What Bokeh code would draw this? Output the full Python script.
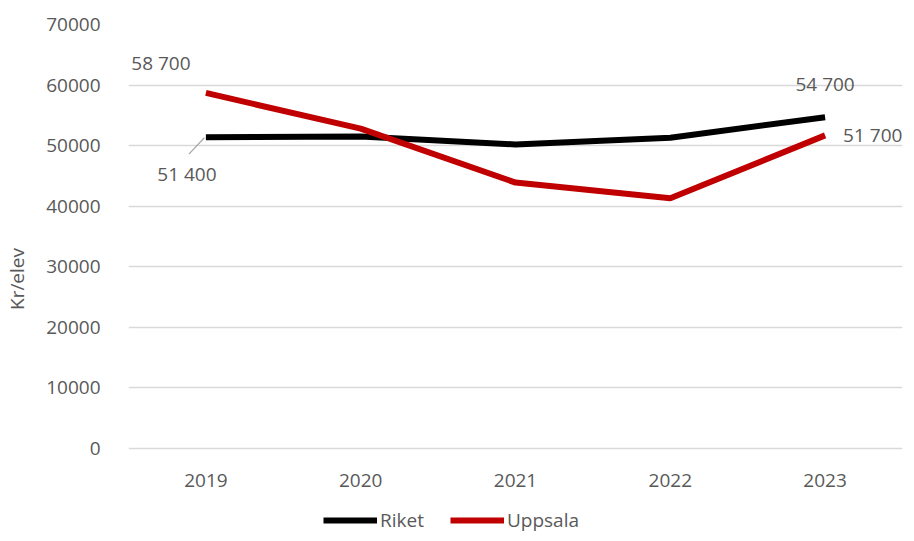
from bokeh.plotting import figure
from bokeh.models import ColumnDataSource, FixedTicker, Legend, LegendItem
from bokeh.core.properties import value
from bokeh.embed import file_html
from bokeh.resources import INLINE

years = [2019, 2020, 2021, 2022, 2023]
year_labels = ["2019", "2020", "2021", "2022", "2023"]
riket = [51400, 51500, 50200, 51300, 54700]
uppsala = [58700, 52800, 43900, 41300, 51700]
y_ticks = [0, 10000, 20000, 30000, 40000, 50000, 60000, 70000]

FONT = "Open Sans"
GRAY = "#595959"
FS = "19px"

def fmt(v):
    return f"{v:,}".replace(",", " ")

# frame runs to the bottom of the figure so that the category labels and legend can sit inside it
p = figure(width=906, height=533, output_backend="svg", toolbar_location=None,
           x_range=(2018.5, 2023.5), y_range=(-14030, 70000), x_axis_location=None,
           min_border_left=128, min_border_right=4, min_border_top=24, min_border_bottom=0)
p.outline_line_color = None
p.background_fill_color = "white"
p.border_fill_color = "white"

ax = p.yaxis[0]
ax.axis_line_color = None
ax.major_tick_line_color = None
ax.minor_tick_line_color = None
ax.major_label_text_font = FONT
ax.major_label_text_font_size = FS
ax.major_label_text_color = GRAY
ax.ticker = FixedTicker(ticks=y_ticks)
ax.major_label_standoff = 22
ax.axis_label = "Kr/elev"
ax.axis_label_text_font = FONT
ax.axis_label_text_font_size = FS
ax.axis_label_text_font_style = "normal"
ax.axis_label_text_color = GRAY
ax.axis_label_standoff = 13

p.xgrid.grid_line_color = None
p.ygrid.grid_line_color = "#D9D9D9"
p.ygrid.grid_line_width = 1.5

# category labels under the zero line
p.text(x=years, y=[0] * len(years), text=year_labels, y_offset=32,
       text_align="center", text_baseline="middle", text_font=value(FONT),
       text_font_size=FS, text_color=GRAY)

src = ColumnDataSource(dict(x=years, riket=riket, uppsala=uppsala))
r1 = p.line("x", "riket", source=src, line_color="black", line_width=6)
r2 = p.line("x", "uppsala", source=src, line_color="#C00000", line_width=6)

legend = Legend(items=[LegendItem(label="Riket", renderers=[r1]),
                       LegendItem(label="Uppsala", renderers=[r2])],
                orientation="horizontal", location=(195, 0),
                label_text_font=FONT, label_text_font_size=FS, label_text_color=GRAY,
                glyph_width=54, glyph_height=16, label_standoff=3, spacing=26,
                label_height=16,
                background_fill_alpha=0, border_line_color=None, padding=0, margin=0)
p.add_layout(legend, "center")

# data labels
tf = value(FONT)
p.text(x=[years[0]], y=[uppsala[0]], text=[fmt(uppsala[0])], x_offset=-45, y_offset=-30,
       text_align="center", text_baseline="middle", text_font=tf, text_font_size=FS, text_color=GRAY)
p.text(x=[years[0]], y=[riket[0]], text=[fmt(riket[0])], x_offset=-19, y_offset=37,
       text_align="center", text_baseline="middle", text_font=tf, text_font_size=FS, text_color=GRAY)
p.text(x=[years[-1]], y=[riket[-1]], text=[fmt(riket[-1])], x_offset=0, y_offset=-33,
       text_align="center", text_baseline="middle", text_font=tf, text_font_size=FS, text_color=GRAY)
p.text(x=[years[-1]], y=[uppsala[-1]], text=[fmt(uppsala[-1])], x_offset=18, y_offset=0,
       text_align="left", text_baseline="middle", text_font=tf, text_font_size=FS, text_color=GRAY)

# leader line for 51 400
p.segment(x0=[years[0] - 0.11], y0=[riket[0] - 2800], x1=[years[0] - 0.01], y1=[riket[0] - 100],
          line_color="#A6A6A6", line_width=1.2)

open("out.html", "w").write(file_html(p, INLINE))
